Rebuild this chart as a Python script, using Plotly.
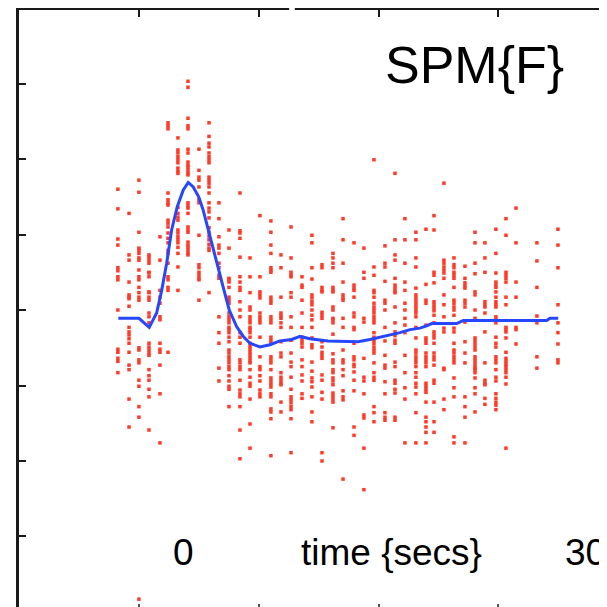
import plotly.graph_objects as go

# ---- data (time in seconds, response in arbitrary units) ----
col_times = [-4.93, -4.10, -3.36, -2.61, -1.79, -1.19, -0.45, 0.30, 1.12, 1.87,
             2.61, 3.36, 4.18, 4.93, 5.67, 6.49, 7.24, 7.99, 8.81, 9.55,
             10.30, 11.12, 11.87, 12.69, 13.43, 14.18, 15.00, 15.75, 16.49, 17.31,
             18.06, 18.66, 19.40, 20.15, 20.97, 21.72, 22.46, 23.28, 24.03, 24.78,
             26.34, 27.91]

col_values = [
    [1.60, 1.34, 0.94, 0.86, 0.56, 0.52, 0.44, 0.40, 0.00, -0.52, -0.56, -0.64, -0.68, -0.83],
    [1.28, 0.73, 0.66, 0.37, 0.20, 0.17, 0.15, 0.05, -0.23, -0.29, -0.33, -0.38, -0.44, -0.56, -0.73, -0.79, -1.18, -1.55],
    [1.72, 1.56, 1.03, 0.82, 0.79, 0.75, 0.69, 0.66, 0.53, 0.44, 0.40, 0.30, 0.23, 0.17, 0.13, -0.50, -0.53, -0.66, -0.70, -0.93, -1.01, -1.28, -1.42, -3.83],
    [0.73, 0.70, 0.66, 0.62, 0.50, 0.49, 0.44, 0.24, 0.23, 0.17, 0.13, -0.04, -0.09, -0.17, -0.44, -0.49, -0.53, -0.57, -0.60, -0.79, -0.87, -0.93, -1.05, -1.15, -1.59],
    [0.97, 0.66, 0.26, 0.17, 0.09, -0.09, -0.13, -0.44, -0.52, -0.56, -0.73, -1.11, -1.76],
    [2.48, 2.44, 2.40, 1.55, 1.46, 1.42, 1.39, 1.19, 1.15, 1.10, 1.02, 0.95, 0.89, 0.79, 0.75, 0.62, 0.44, 0.40, 0.30, 0.26, -0.56],
    [2.28, 2.12, 2.08, 2.03, 1.99, 1.95, 1.88, 1.84, 1.81, 1.36, 1.28, 1.23, 1.19, 1.06, 1.02, 0.97, 0.93, 0.89, 0.83, 0.75, 0.57, 0.26],
    [3.03, 2.95, 2.54, 2.44, 2.40, 2.13, 2.08, 1.96, 1.92, 1.89, 1.85, 1.81, 1.79, 1.42, 1.38, 1.35, 1.28, 1.10, 1.06, 1.03, 0.90, 0.86, 0.83, 0.79, 0.75, 0.73],
    [2.13, 1.85, 1.76, 1.72, 1.63, 1.46, 1.42, 0.99, 0.60, 0.56, 0.50, 0.46, 0.42, 0.40, 0.13],
    [2.48, 2.30, 2.21, 2.16, 2.08, 2.03, 1.99, 1.95, 1.76, 1.72, 1.68, 1.63, 1.55, 1.42, 1.35, 1.30, 1.22, 1.09, 1.03, 0.98, 0.93, 0.87, 0.82, 0.79, 0.23],
    [1.42, 1.21, 0.97, 0.86, 0.82, 0.75, 0.62, 0.56, 0.46, 0.42, -0.09, -0.30, -0.44, -0.77, -0.94],
    [1.06, 0.82, 0.42, 0.40, 0.37, 0.30, 0.17, 0.13, 0.09, -0.04, -0.09, -0.13, -0.17, -0.23, -0.26, -0.30, -0.36, -0.42, -0.53, -0.57, -0.62, -0.66, -0.70, -0.75, -0.79, -0.87, -0.94, -1.01, -1.05, -1.28],
    [1.55, 1.05, 1.02, 0.95, 0.70, 0.44, 0.37, 0.30, 0.26, 0.11, 0.00, -0.09, -0.30, -0.36, -0.44, -0.66, -0.70, -0.75, -0.79, -0.93, -1.06, -1.11, -1.15, -1.28, -1.59, -1.97],
    [0.69, 0.44, 0.23, 0.04, 0.00, -0.09, -0.13, -0.17, -0.23, -0.26, -0.30, -0.36, -0.44, -0.48, -0.52, -0.56, -0.60, -0.64, -0.68, -0.70, -0.79, -0.89, -0.97, -1.01, -1.18, -1.51, -1.83],
    [1.25, 0.44, 0.24, 0.20, 0.16, -0.04, -0.09, -0.13, -0.17, -0.36, -0.62, -0.75, -0.79, -0.87, -0.94, -1.06, -1.11, -1.15],
    [1.18, 1.03, 0.86, 0.75, 0.56, 0.53, 0.50, 0.17, 0.13, 0.09, -0.09, -0.13, -0.17, -0.36, -0.40, -0.44, -0.62, -0.66, -0.70, -0.79, -0.90, -0.94, -0.98, -1.02, -1.11, -1.15, -1.31, -1.35, -1.44, -1.93],
    [0.73, 0.56, 0.17, -0.04, -0.08, -0.11, -0.17, -0.23, -0.42, -0.57, -0.62, -0.83, -0.89, -0.93, -0.97, -0.99, -1.22, -1.35],
    [1.10, 0.69, 0.50, 0.46, 0.44, 0.23, 0.17, -0.09, -0.23, -0.40, -0.57, -0.69, -0.75, -0.89, -1.05, -1.15, -1.19, -1.23, -1.28, -1.32, -1.44, -1.89],
    [0.44, 0.33, 0.30, 0.13, -0.04, -0.23, -0.36, -0.40, -0.44, -0.49, -0.66, -0.75, -0.86, -0.94, -1.11, -1.17],
    [0.99, 0.89, 0.56, 0.41, 0.20, 0.16, 0.11, 0.07, 0.00, -0.07, -0.13, -0.23, -0.37, -0.46, -0.50, -0.69, -0.81, -0.90, -0.95, -1.02, -1.15, -1.35, -1.48],
    [0.60, 0.56, 0.30, 0.26, 0.24, -0.03, -0.07, -0.11, -0.42, -0.49, -0.56, -0.60, -0.64, -0.86, -0.93, -1.09, -1.18, -1.89, -2.00],
    [0.75, 0.69, 0.62, 0.56, 0.30, 0.26, 0.24, 0.04, 0.00, -0.11, -0.13, -0.17, -0.32, -0.58, -0.66, -0.70, -0.79, -0.83, -0.90, -0.94, -0.99, -1.10, -1.14, -1.18, -1.22, -1.56],
    [1.21, 0.93, 0.62, 0.37, 0.20, 0.16, 0.13, -0.11, -0.23, -0.53, -0.66, -0.70, -0.79, -0.87, -1.07, -1.15, -1.19, -2.24],
    [0.89, 0.33, 0.29, 0.26, 0.17, -0.04, -0.09, -0.23, -0.26, -0.44, -0.62, -0.66, -0.72, -0.75, -0.82, -0.93, -1.07, -1.55, -1.66],
    [0.82, 0.50, 0.42, -0.11, -0.16, -0.64, -0.89, -0.94, -1.11, -1.39, -1.43, -1.83, -2.38],
    [1.99, 0.57, 0.46, 0.26, 0.23, 0.17, 0.09, 0.04, 0.00, -0.04, -0.09, -0.13, -0.17, -0.30, -0.36, -0.40, -0.44, -0.49, -0.53, -0.57, -0.70, -0.83, -0.89, -0.93, -1.28, -1.36, -1.48],
    [0.85, 0.62, 0.57, 0.38, 0.13, 0.09, 0.00, -0.23, -0.41, -0.60, -0.73, -0.77, -0.95, -1.11, -1.36, -1.42, -1.46],
    [1.81, 0.93, 0.73, 0.66, 0.42, 0.33, 0.29, 0.25, 0.23, 0.04, -0.17, -0.29, -0.34, -0.40, -0.44, -0.69, -0.75, -0.93, -0.97, -1.05, -1.10, -1.42, -1.46],
    [1.21, 0.93, 0.62, 0.37, 0.26, 0.09, 0.00, -0.11, -0.20, -0.30, -0.60, -0.83, -1.03, -1.18, -1.76],
    [1.03, 0.93, 0.69, 0.57, 0.29, 0.20, 0.16, 0.12, 0.08, 0.04, 0.00, -0.04, -0.09, -0.23, -0.37, -0.53, -0.57, -0.62, -0.66, -0.70, -0.75, -0.83, -0.89, -0.97, -1.02, -1.11, -1.36, -1.76],
    [1.07, 0.34, 0.13, 0.09, -0.20, -0.37, -0.40, -0.44, -0.57, -0.62, -0.66, -0.70, -0.75, -0.97, -1.01, -1.05, -1.09, -1.22, -1.42, -1.48, -1.55, -1.62, -1.76],
    [1.25, 1.06, 0.50, 0.46, 0.36, 0.11, 0.07, 0.03, -0.01, -0.07, -0.17, -0.29, -0.33, -0.37, -0.44, -0.57, -0.62, -0.66, -0.73, -0.93, -0.97, -1.22, -1.48, -1.62],
    [1.68, 0.66, 0.62, 0.57, 0.53, 0.49, 0.42, 0.20, 0.07, -0.09, -0.24, -0.29, -0.77, -0.79, -1.18, -1.32],
    [0.69, 0.60, 0.56, 0.50, 0.46, 0.42, 0.30, 0.13, 0.09, 0.04, 0.00, -0.07, -0.24, -0.29, -0.44, -0.53, -0.57, -0.62, -0.66, -0.70, -0.90, -1.03, -1.15, -1.68, -1.76],
    [0.58, 0.42, 0.36, 0.32, 0.29, 0.13, 0.09, 0.04, -0.16, -0.42, -0.57, -0.70, -1.15, -1.28, -1.42, -1.76],
    [1.03, 0.89, 0.62, 0.48, 0.24, 0.20, 0.00, -0.11, -0.37, -0.41, -0.45, -0.49, -0.53, -0.62, -0.66, -0.70, -0.74, -0.77, -0.79, -0.83, -0.90, -1.03, -1.11, -1.35],
    [0.89, 0.69, 0.50, 0.11, 0.07, 0.04, -0.04, -0.29, -0.70, -0.93, -0.97, -0.99, -1.17, -1.25],
    [1.07, 0.75, 0.49, 0.37, 0.33, 0.30, 0.24, 0.17, 0.11, 0.07, 0.04, -0.09, -0.13, -0.17, -0.36, -0.44, -0.49, -0.62, -0.66, -0.70, -0.79, -0.89, -0.94, -1.11, -1.17, -1.22, -1.26, -1.32],
    [1.21, 0.99, 0.50, 0.46, 0.42, 0.37, 0.17, 0.07, -0.23, -0.26, -0.29, -0.37, -0.56, -0.64, -0.68, -0.72, -0.75, -0.79, -0.83, -0.89, -0.98, -1.83],
    [1.35, 0.89, 0.37, 0.17, -0.23, -0.26, -0.45],
    [0.89, 0.65, 0.30, -0.08, -0.17, -0.62, -0.77],
    [1.07, 0.86, 0.56, 0.07, -0.17, -0.30, -0.45, -0.66, -0.70],
]

fit_t = [-4.90, -3.36, -2.59, -2.04, -1.66, -1.29, -0.92, -0.50, -0.05, 0.32,
         0.69, 1.10, 1.44, 1.81, 2.19, 2.61, 2.99, 3.38, 3.93, 4.43,
         4.93, 5.67, 6.42, 7.16, 8.04, 8.66, 9.40, 10.75, 12.99, 13.88,
         14.87, 15.50, 16.12, 16.87, 17.61, 18.11, 18.49, 20.35, 20.84, 27.07,
         27.31, 27.93]
fit_y = [-0.11, -0.11, -0.23, -0.04, 0.26, 0.62, 1.06, 1.37, 1.59, 1.69,
         1.63, 1.50, 1.32, 1.06, 0.79, 0.53, 0.26, 0.00, -0.22, -0.35,
         -0.44, -0.49, -0.46, -0.41, -0.39, -0.35, -0.38, -0.41, -0.42, -0.39,
         -0.35, -0.33, -0.30, -0.26, -0.24, -0.21, -0.18, -0.18, -0.14, -0.14,
         -0.11, -0.11]

title_text = "SPM{F}"
xlabels = ["0", "time {secs}", "30"]

# ---- build ----
pts_x, pts_y = [], []
for t, vals in zip(col_times, col_values):
    for v in vals:
        pts_x.append(t)
        pts_y.append(v)

X0, X1 = -12.31, 31.57
Y0, Y1 = -3.934, 3.974

fig = go.Figure()
fig.add_trace(go.Scatter(
    x=pts_x, y=pts_y, mode="markers",
    marker=dict(symbol="square", size=3.5, color="#ff3a28", line=dict(width=0)),
    hoverinfo="skip", showlegend=False))
fig.add_trace(go.Scatter(
    x=fit_t, y=fit_y, mode="lines",
    line=dict(color="#2646ff", width=3),
    hoverinfo="skip", showlegend=False, xaxis="x2"))

font = "Liberation Sans, Arial, sans-serif"
fig.update_layout(
    width=599, height=599,
    margin=dict(l=11, r=0, t=2, b=0),
    paper_bgcolor="white", plot_bgcolor="white",
    showlegend=False,
    xaxis=dict(range=[X0, X1], side="top", showline=True, linecolor="#1a1a1a",
               linewidth=3, ticks="inside", ticklen=7, tickwidth=2,
               tickcolor="#1a1a1a", tick0=-3.36, dtick=8.94,
               showticklabels=False, showgrid=False, zeroline=False),
    xaxis2=dict(range=[X0, X1], overlaying="x", side="bottom", matches="x",
                showline=False, ticks="inside", ticklen=3, tickwidth=1.5,
                tickcolor="#555555", tick0=-3.36, dtick=8.94,
                showticklabels=False, showgrid=False, zeroline=False),
    yaxis=dict(range=[Y0, Y1], showline=True, linecolor="#1a1a1a", linewidth=3,
               ticks="inside", ticklen=7, tickwidth=2, tickcolor="#1a1a1a",
               tick0=0, dtick=1, showticklabels=False, showgrid=False,
               zeroline=False),
)

# break in the top frame line
fig.add_shape(type="rect", xref="x", yref="paper", x0=7.85, x1=8.27,
              y0=0.985, y1=1.03, fillcolor="white", line=dict(width=0),
              layer="above")

fig.add_annotation(text=title_text, xref="paper", yref="paper",
                   x=0.7755, y=0.908, xanchor="center", yanchor="middle",
                   showarrow=False, font=dict(family=font, size=52, color="black"))
for txt, xp in zip(xlabels, [0.2806, 0.6327, 0.964]):
    fig.add_annotation(text=txt, xref="paper", yref="paper",
                       x=xp, y=0.0905, xanchor="center", yanchor="middle",
                       showarrow=False, font=dict(family=font, size=37, color="black"))

fig.write_html("out.html")
